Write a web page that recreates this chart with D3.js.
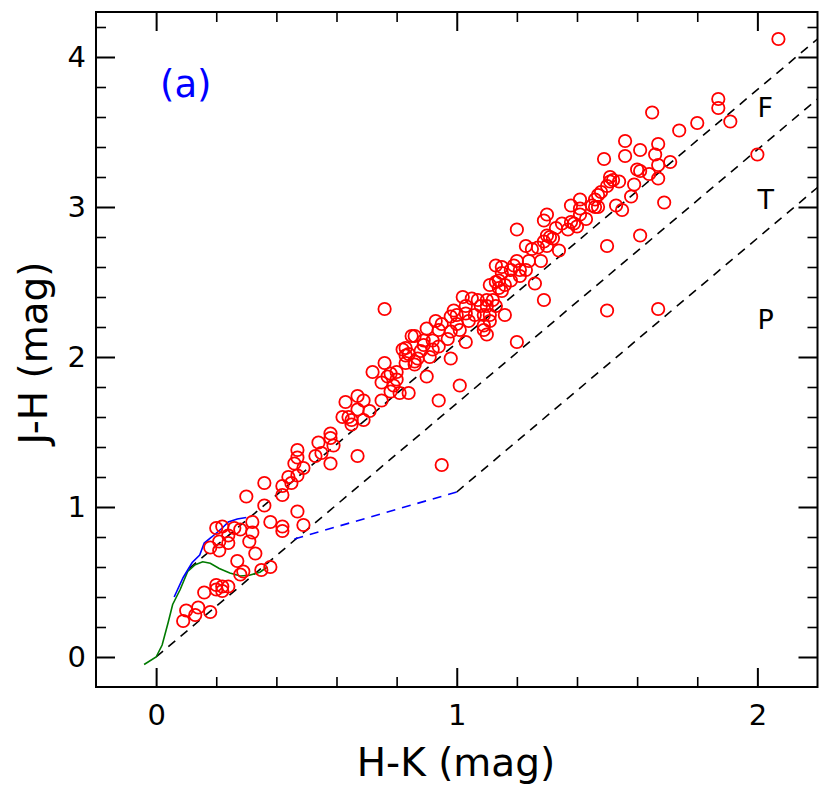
<!DOCTYPE html>
<html><head><meta charset="utf-8">
<script src="https://cdn.jsdelivr.net/npm/d3@7/dist/d3.min.js"></script>
<style>
body{margin:0;background:#fff}
svg{display:block}
text{font-family:"DejaVu Sans",sans-serif}
</style>
</head><body>
<svg id="chart" width="830" height="795"></svg>
<script>
// ---------- DATA ----------
// Sources: H-K (x) and J-H (y) colours
const starHK = [
 0.30,0.42,0.36,0.47,0.32,0.38,0.42,0.42,0.49,0.20,
 0.22,0.26,0.28,0.32,0.24,0.21,0.24,0.31,0.18,0.21,
 0.33,0.27,0.38,0.35,0.29,0.28,0.20,0.22,0.24,0.20,
 0.22,0.16,0.10,0.14,0.13,0.18,0.09,
 0.36,0.42,0.44,0.45,0.47,0.49,0.46,0.47,0.47,0.53,
 0.55,0.58,0.54,0.58,0.58,0.59,0.67,0.62,0.64,0.65,
 0.65,0.67,0.67,0.63,0.69,0.71,0.69,0.72,0.76,0.75,
 0.75,0.77,0.78,0.80,0.79,0.78,0.81,0.80,0.84,0.82,
 0.83,0.85,0.86,0.89,0.90,0.94,0.95,0.76,1.01,
 1.20,1.29,1.30,1.38,1.41,1.46,1.35,1.37,1.39,1.41,
 1.43,1.30,1.32,1.29,1.23,1.25,1.27,1.30,1.34,1.28,
 1.24,1.20,1.19,1.13,1.15,1.21,1.23,1.18,1.15,1.21,
 1.18,1.26,1.11,1.13,1.14,1.14,1.16,1.15,1.29,1.02,
 1.05,1.07,1.10,1.12,1.03,1.08,1.10,1.13,1.16,1.11,
 0.99,0.98,1.00,1.03,1.06,1.09,0.95,0.93,1.00,1.04,
 1.09,1.11,1.09,1.10,0.90,0.94,0.98,1.01,0.86,0.89,
 0.92,0.97,1.03,0.83,0.84,0.88,0.92,0.94,0.87,0.91,
 0.98,0.83,0.86,1.20,
 1.87,1.87,1.65,1.80,1.91,1.74,1.56,1.67,1.61,1.49,
 1.56,1.66,1.71,1.67,1.60,1.61,1.64,1.51,1.52,1.54,
 1.51,1.67,1.59,1.50,1.48,1.58,1.47,1.46,1.41,1.45,
 1.47,1.53,1.55,1.69,1.38,1.40,1.33,1.31,1.61,1.50,
 2.07,2.00,1.50,1.67
];
const starJH = [
 1.07,1.08,1.01,0.97,0.90,0.90,0.87,0.84,0.88,0.86,
 0.87,0.86,0.85,0.83,0.81,0.77,0.76,0.77,0.73,0.71,
 0.69,0.64,0.60,0.58,0.57,0.55,0.48,0.47,0.47,0.45,
 0.44,0.43,0.31,0.33,0.28,0.30,0.24,
 1.16,1.14,1.20,1.16,1.21,1.26,1.29,1.33,1.38,1.34,
 1.36,1.29,1.43,1.49,1.46,1.41,1.34,1.60,1.60,1.55,
 1.58,1.65,1.74,1.70,1.71,1.64,1.58,1.90,1.96,1.83,
 1.71,1.87,1.89,1.90,1.81,1.77,1.76,1.85,1.76,2.05,
 2.01,2.14,1.97,2.08,1.87,1.71,1.28,2.32,1.81,
 2.85,2.91,2.95,3.01,2.99,3.00,2.89,2.85,2.89,2.95,
 2.92,2.81,2.79,2.77,2.74,2.72,2.73,2.74,2.71,2.64,
 2.64,2.64,2.61,2.61,2.60,2.58,2.58,2.58,2.56,2.54,
 2.51,2.49,2.48,2.50,2.51,2.46,2.48,2.44,2.38,2.40,
 2.39,2.38,2.38,2.38,2.34,2.34,2.34,2.34,2.28,2.28,
 2.31,2.27,2.28,2.29,2.28,2.28,2.22,2.24,2.22,2.24,
 2.21,2.24,2.18,2.15,2.19,2.18,2.17,2.18,2.14,2.11,
 2.11,2.12,2.10,2.06,2.02,2.04,2.05,2.07,1.99,2.00,
 1.99,1.96,1.95,2.10,
 3.72,3.66,3.63,3.56,3.57,3.51,3.44,3.42,3.38,3.32,
 3.34,3.35,3.30,3.28,3.25,3.24,3.22,3.20,3.18,3.17,
 3.17,3.19,3.15,3.14,3.10,3.07,3.08,3.05,3.05,3.01,
 3.00,3.01,2.98,3.03,2.90,2.87,2.86,2.80,2.81,2.74,
 4.12,3.35,2.31,2.32
];

// Intrinsic loci
const dwarfHK = [-0.04,0.00,0.02,0.04,0.055,0.08,0.105,0.13,0.155,0.18,0.21,0.245,0.28,0.31,0.345,0.37];
const dwarfJH = [-0.05,0.00,0.08,0.23,0.35,0.45,0.57,0.615,0.635,0.625,0.59,0.56,0.54,0.545,0.565,0.60];
const giantHK = [0.06,0.09,0.105,0.12,0.145,0.16,0.185,0.22,0.24,0.27,0.30];
const giantJH = [0.40,0.53,0.58,0.63,0.68,0.76,0.80,0.86,0.90,0.92,0.93];
// CTTS locus (blue dashed)
const cttsHK = [0.46,1.00];
const cttsJH = [0.787,1.10];
// Reddening vectors (black dashed): start and end points
const reddenStartHK = [0.11,0.00,1.00];
const reddenStartJH = [0.59,0.00,1.10];
const reddenEndHK   = [2.20,2.20,2.20];
const reddenEndJH   = [4.12,3.72,3.13];

// Axes
const xMajorTicks = [0,1,2];
const xMinorTicks = [0.2,0.4,0.6,0.8,1.2,1.4,1.6,1.8];
const yMajorTicks = [0,1,2,3,4];
const yMinorTicks = [0.2,0.4,0.6,0.8,1.2,1.4,1.6,1.8,2.2,2.4,2.6,2.8,3.2,3.4,3.6,3.8,4.2];
const xTitle = "H-K (mag)";
const yTitle = "J-H (mag)";
const panelLabel = "(a)";
const regionLabels = ["F","T","P"];
const regionHK = [2.0,2.0,2.0];
const regionJH = [3.6,2.99,2.19];

// ---------- DRAW ----------
const L=96, R=817.5, T=12, B=687;
const svg = d3.select("#chart");
const x = d3.scaleLinear().domain([-0.2,2.2]).range([L,R]);
const y = d3.scaleLinear().domain([-0.2,4.3]).range([B,T]);

svg.append("clipPath").attr("id","clip").append("rect")
  .attr("x",L).attr("y",T).attr("width",R-L).attr("height",B-T);
const plot = svg.append("g").attr("clip-path","url(#clip)");

const line = d3.line().x(d=>x(d[0])).y(d=>y(d[1]));

// reddening vectors
reddenStartHK.forEach((h,i)=>{
  plot.append("path")
    .attr("d", line([[h,reddenStartJH[i]],[reddenEndHK[i],reddenEndJH[i]]]))
    .attr("fill","none").attr("stroke","#000").attr("stroke-width",1.6)
    .attr("stroke-dasharray","9,7");
});
// CTTS locus
plot.append("path")
  .attr("d", line(cttsHK.map((h,i)=>[h,cttsJH[i]])))
  .attr("fill","none").attr("stroke","#0000ff").attr("stroke-width",1.6)
  .attr("stroke-dasharray","9,7");
// dwarf & giant loci
plot.append("path")
  .attr("d", line(dwarfHK.map((h,i)=>[h,dwarfJH[i]])))
  .attr("fill","none").attr("stroke","#007a00").attr("stroke-width",1.6);
plot.append("path")
  .attr("d", line(giantHK.map((h,i)=>[h,giantJH[i]])))
  .attr("fill","none").attr("stroke","#0000ff").attr("stroke-width",1.6);

// stars
plot.selectAll("circle.star").data(starHK.map((h,i)=>[h,starJH[i]]))
  .enter().append("circle").attr("class","star")
  .attr("cx",d=>x(d[0])).attr("cy",d=>y(d[1])).attr("r",6.2)
  .attr("fill","none").attr("stroke","#ff0000").attr("stroke-width",1.8);

// axes with inward ticks on four sides
function styleAxis(g, w){
  g.select(".domain").remove();
  g.selectAll(".tick line").attr("stroke","#000").attr("stroke-width",w);
  g.selectAll(".tick text").attr("fill","#000").style("font-size","29px")
   .style("font-family","'DejaVu Sans',sans-serif");
}
const gxB = svg.append("g").attr("transform",`translate(0,${B})`)
  .call(d3.axisBottom(x).tickValues(xMajorTicks).tickSizeInner(-19).tickSizeOuter(0).tickPadding(17).tickFormat(d3.format("d")));
styleAxis(gxB,2);
const gxBm = svg.append("g").attr("transform",`translate(0,${B})`)
  .call(d3.axisBottom(x).tickValues(xMinorTicks).tickSizeInner(-10).tickSizeOuter(0).tickFormat(""));
styleAxis(gxBm,1.6);
const gxT = svg.append("g").attr("transform",`translate(0,${T})`)
  .call(d3.axisTop(x).tickValues(xMajorTicks).tickSizeInner(-19).tickSizeOuter(0).tickFormat(""));
styleAxis(gxT,2);
const gxTm = svg.append("g").attr("transform",`translate(0,${T})`)
  .call(d3.axisTop(x).tickValues(xMinorTicks).tickSizeInner(-10).tickSizeOuter(0).tickFormat(""));
styleAxis(gxTm,1.6);
const gyL = svg.append("g").attr("transform",`translate(${L},0)`)
  .call(d3.axisLeft(y).tickValues(yMajorTicks).tickSizeInner(-19).tickSizeOuter(0).tickPadding(10).tickFormat(d3.format("d")));
styleAxis(gyL,2);
const gyLm = svg.append("g").attr("transform",`translate(${L},0)`)
  .call(d3.axisLeft(y).tickValues(yMinorTicks).tickSizeInner(-10).tickSizeOuter(0).tickFormat(""));
styleAxis(gyLm,1.6);
const gyR = svg.append("g").attr("transform",`translate(${R},0)`)
  .call(d3.axisRight(y).tickValues(yMajorTicks).tickSizeInner(-19).tickSizeOuter(0).tickFormat(""));
styleAxis(gyR,2);
const gyRm = svg.append("g").attr("transform",`translate(${R},0)`)
  .call(d3.axisRight(y).tickValues(yMinorTicks).tickSizeInner(-10).tickSizeOuter(0).tickFormat(""));
styleAxis(gyRm,1.6);

// frame
svg.append("rect").attr("x",L).attr("y",T).attr("width",R-L).attr("height",B-T)
  .attr("fill","none").attr("stroke","#000").attr("stroke-width",2);

// titles
svg.append("text").attr("x",456).attr("y",776).attr("text-anchor","middle")
  .style("font-size","39px").text(xTitle);
svg.append("text").attr("transform",`translate(47,353) rotate(-90)`)
  .attr("text-anchor","middle").style("font-size","39px").text(yTitle);

// panel label
svg.append("text").attr("x",160).attr("y",97).attr("fill","#0000ff")
  .style("font-size","37px").text(panelLabel);

// region labels
svg.selectAll("text.region").data(regionLabels).enter().append("text")
  .attr("class","region")
  .attr("x",(d,i)=>x(regionHK[i])).attr("y",(d,i)=>y(regionJH[i]))
  .style("font-size","27px").attr("fill","#000").text(d=>d);
</script>
</body></html>
